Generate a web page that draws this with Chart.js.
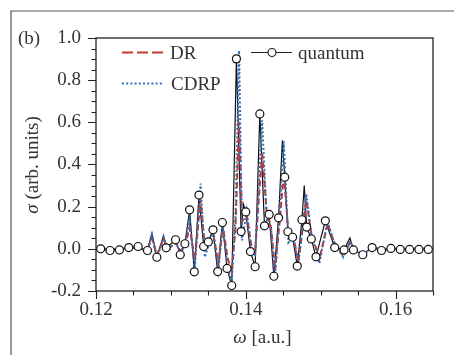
<!DOCTYPE html>
<html>
<head>
<meta charset="utf-8">
<script src="https://cdn.jsdelivr.net/npm/chart.js@4.4.0/dist/chart.umd.min.js"></script>
<style>
  html, body { margin: 0; padding: 0; background: #fff; }
  canvas { display: block; }
</style>
</head>
<body>
<canvas id="myChart" width="454" height="355"></canvas>
<script>
// tick labels
const xTicks = [0.12, 0.14, 0.16];
const yTicks = [-0.2, 0, 0.2, 0.4, 0.6, 0.8, 1.0];

// DR and CDRP curves
const modelX = [0.12, 0.12191, 0.12369, 0.12547, 0.1268, 0.12747, 0.12813, 0.12902, 0.12969, 0.13058,
  0.13124, 0.13191, 0.13249, 0.1332, 0.13396, 0.13453, 0.13516, 0.13569, 0.13636, 0.13693,
  0.13756, 0.13813, 0.13862, 0.13911, 0.13951, 0.14013, 0.1408, 0.14124, 0.14218, 0.1428,
  0.14338, 0.14391, 0.14458, 0.14507, 0.14569, 0.14636, 0.14702, 0.14809, 0.1488, 0.14947,
  0.14982, 0.15093, 0.15169, 0.15236, 0.15302, 0.15391, 0.15458, 0.15569, 0.15702, 0.15836,
  0.16013, 0.16236, 0.165];
const drY = [0, -0.003, 0.002, 0.006, -0.008, 0.05, -0.03, 0.045, 0.0, 0.03,
  -0.01, 0.015, 0.10, -0.05, 0.23, 0.01, 0.035, 0.06, -0.07, 0.11,
  -0.04, -0.11, 0.10, 0.60, 0.13, 0.16, 0.0, -0.02, 0.46, 0.17,
  0.10, -0.10, 0.15, 0.36, 0.08, 0.055, -0.06, 0.23, 0.06, -0.005,
  -0.05, 0.12, 0.04, 0.0, -0.035, 0.03, -0.005, -0.02, 0.006, -0.004,
  0.0, 0.0, 0.0];
const cdrpY = [0, -0.004, 0.003, 0.008, -0.012, 0.065, -0.045, 0.055, -0.01, 0.04,
  -0.02, 0.02, 0.14, -0.09, 0.31, -0.04, 0.03, 0.08, -0.10, 0.12,
  -0.09, -0.15, 0.15, 0.94, 0.04, 0.18, -0.02, -0.03, 0.61, 0.14,
  0.09, -0.13, 0.21, 0.51, 0.03, 0.055, -0.07, 0.26, 0.05, -0.01,
  -0.07, 0.13, 0.04, 0.0, -0.04, 0.035, -0.008, -0.024, 0.007, -0.005,
  0.0, 0.0, 0.0];

// quantum result: marked points (circles)
const quantumX = [0.120625, 0.121875, 0.123125, 0.124375, 0.125625, 0.126875, 0.128125, 0.129375,
  0.130625, 0.13125, 0.131875, 0.1325, 0.133125, 0.13375, 0.134375, 0.135, 0.135625, 0.13625,
  0.136875, 0.1375, 0.138125, 0.13875, 0.139375, 0.14, 0.140625, 0.14125, 0.141875, 0.1425,
  0.143125, 0.14375, 0.144375, 0.1452, 0.145625, 0.14625, 0.146875, 0.1475, 0.148125, 0.14875,
  0.149375, 0.150625, 0.151875, 0.153125, 0.154375, 0.155625, 0.156875, 0.158125, 0.159375,
  0.160625, 0.161875, 0.163125, 0.164375];
const quantumY = [0.0, -0.008, -0.005, 0.006, 0.011, -0.008, -0.04, 0.005,
  0.043, -0.028, 0.024, 0.185, -0.109, 0.255, 0.011, 0.033, 0.09, -0.108,
  0.125, -0.093, -0.174, 0.901, 0.082, 0.175, -0.013, -0.085, 0.64, 0.109,
  0.163, -0.13, 0.147, 0.34, 0.081, 0.055, -0.082, 0.138, 0.103, 0.047,
  -0.038, 0.133, 0.006, -0.005, -0.005, -0.028, 0.006, -0.008, 0.002,
  -0.003, -0.003, -0.003, -0.003];
// quantum result: unmarked spikes of the solid line
const spikeX = [0.12747, 0.12902, 0.1397, 0.14489, 0.14781, 0.15391];
const spikeY = [0.074, 0.063, 0.21, 0.515, 0.30, 0.052];

const toPts = (xs, ys) => xs.map((x, i) => ({ x: x, y: ys[i] }));
const quantumLine = toPts(quantumX, quantumY).concat(toPts(spikeX, spikeY)).sort((a, b) => a.x - b.x);

const red = '#c9342d';
const blue = '#2f6fbd';
const ink = '#333';
const serif = '"Liberation Serif", "Times New Roman", serif';

function drawParts(ctx, parts, x, y) {
  let total = 0;
  parts.forEach(p => { ctx.font = p.font; total += ctx.measureText(p.text).width; });
  let cx = x - total / 2;
  parts.forEach(p => {
    ctx.font = p.font;
    ctx.fillText(p.text, cx, y);
    cx += ctx.measureText(p.text).width;
  });
}

const decor = {
  id: 'decor',
  afterDraw(chart) {
    const ctx = chart.ctx;
    const a = chart.chartArea;
    const xs = chart.scales.x, ys = chart.scales.y;
    ctx.save();
    // outer figure frame (left and top)
    ctx.strokeStyle = '#555';
    ctx.lineWidth = 1.2;
    ctx.beginPath();
    ctx.moveTo(11, chart.height);
    ctx.lineTo(11, 11);
    ctx.lineTo(chart.width, 11);
    ctx.stroke();

    // plot frame
    ctx.strokeStyle = '#222';
    ctx.lineWidth = 1.3;
    ctx.strokeRect(a.left, a.top, a.right - a.left, a.bottom - a.top);

    // outward ticks
    ctx.lineWidth = 1.1;
    ctx.beginPath();
    for (let i = 0; i <= 9; i++) {
      const v = 0.12 + i * 0.005;
      const px = Math.round(xs.getPixelForValue(v)) + 0.5;
      const len = (i % 4 === 0) ? 8 : 4.5;
      ctx.moveTo(px, a.bottom);
      ctx.lineTo(px, a.bottom + len);
    }
    for (let i = 0; i <= 24; i++) {
      const v = -0.2 + i * 0.05;
      const py = Math.round(ys.getPixelForValue(v)) + 0.5;
      const len = (i % 4 === 0) ? 8 : 4.5;
      ctx.moveTo(a.left, py);
      ctx.lineTo(a.left - len, py);
    }
    ctx.stroke();

    // texts
    ctx.fillStyle = ink;
    ctx.textBaseline = 'alphabetic';
    ctx.textAlign = 'left';
    ctx.font = '19px ' + serif;
    ctx.fillText('(b)', 18, 43.5);

    drawParts(ctx, [
      { text: 'ω', font: 'italic 19px ' + serif },
      { text: ' [a.u.]', font: '19px ' + serif }
    ], (a.left + a.right) / 2 - 2, 343);

    ctx.save();
    ctx.translate(37.5, 165);
    ctx.rotate(-Math.PI / 2);
    drawParts(ctx, [
      { text: 'σ', font: 'italic 19px ' + serif },
      { text: ' (arb. units)', font: '19px ' + serif }
    ], 0, 0);
    ctx.restore();

    // legend
    const lx = a.left + 26;
    ctx.lineWidth = 2;
    ctx.strokeStyle = red;
    ctx.setLineDash([11, 4]);
    ctx.beginPath();
    ctx.moveTo(lx, 52.5);
    ctx.lineTo(lx + 43, 52.5);
    ctx.stroke();

    ctx.strokeStyle = blue;
    ctx.setLineDash([2, 2.2]);
    ctx.beginPath();
    ctx.moveTo(lx, 83.5);
    ctx.lineTo(lx + 42, 83.5);
    ctx.stroke();
    ctx.setLineDash([]);

    const qx = a.left + 155;
    ctx.strokeStyle = '#222';
    ctx.lineWidth = 1.2;
    ctx.beginPath();
    ctx.moveTo(qx, 52.5);
    ctx.lineTo(qx + 41, 52.5);
    ctx.stroke();
    ctx.beginPath();
    ctx.arc(qx + 21, 52.5, 4, 0, Math.PI * 2);
    ctx.fillStyle = '#fff';
    ctx.fill();
    ctx.stroke();

    ctx.fillStyle = ink;
    ctx.font = '19px ' + serif;
    ctx.fillText('DR', lx + 48, 58.5);
    ctx.fillText('CDRP', lx + 49, 89.5);
    ctx.fillText('quantum', qx + 47, 58.5);
    ctx.restore();
  }
};

const tickFont = { family: serif, size: 19 };

const options = {
  type: 'scatter',
  data: {
    datasets: [
      {
        label: 'quantum points',
        data: toPts(quantumX, quantumY),
        showLine: false,
        pointRadius: 4,
        pointBorderWidth: 1.2,
        pointBorderColor: '#111',
        pointBackgroundColor: '#fff'
      },
      {
        label: 'CDRP',
        data: toPts(modelX, cdrpY),
        showLine: true,
        borderColor: blue,
        borderWidth: 2,
        borderDash: [2, 2.2],
        pointRadius: 0,
        tension: 0
      },
      {
        label: 'DR',
        data: toPts(modelX, drY),
        showLine: true,
        borderColor: red,
        borderWidth: 2,
        borderDash: [6, 3],
        pointRadius: 0,
        tension: 0
      },
      {
        label: 'quantum',
        data: quantumLine,
        showLine: true,
        borderColor: '#111',
        borderWidth: 1.2,
        pointRadius: 0,
        tension: 0
      }
    ]
  },
  options: {
    responsive: false,
    animation: false,
    layout: { padding: { top: 38, right: 21, left: 0, bottom: 0 } },
    plugins: {
      legend: { display: false },
      tooltip: { enabled: false }
    },
    scales: {
      x: {
        type: 'linear',
        min: 0.12,
        max: 0.165,
        afterBuildTicks: s => { s.ticks = xTicks.map(v => ({ value: v })); },
        afterFit: s => { s.height = 64; },
        grid: { display: false, drawTicks: false },
        border: { display: false },
        ticks: {
          padding: 8,
          font: tickFont,
          color: ink,
          maxRotation: 0,
          autoSkip: false,
          callback: v => v.toFixed(2)
        }
      },
      y: {
        type: 'linear',
        min: -0.2,
        max: 1.0,
        afterBuildTicks: s => { s.ticks = yTicks.map(v => ({ value: v })); },
        afterFit: s => { s.width = 96; },
        grid: { display: false, drawTicks: false },
        border: { display: false },
        ticks: {
          padding: 15,
          font: tickFont,
          color: ink,
          autoSkip: false,
          callback: v => v.toFixed(1)
        }
      }
    }
  },
  plugins: [decor]
};

const ctx = document.getElementById('myChart').getContext('2d');
const myChart = new Chart(ctx, options);
</script>
</body>
</html>
